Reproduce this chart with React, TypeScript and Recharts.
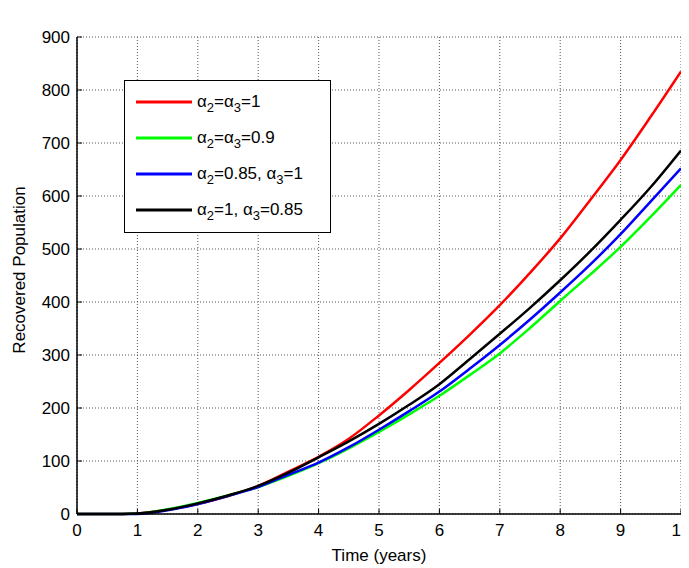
import { LineChart, Line, XAxis, YAxis, CartesianGrid, Legend, Label } from "recharts";

const years = [0, 0.5, 1, 1.5, 2, 2.5, 3, 3.5, 4, 4.5, 5, 5.5, 6, 6.5, 7, 7.5, 8, 8.5, 9, 9.5, 10];
const redVals = [0, 0, 1, 8, 19, 34, 53, 80, 108, 142, 186, 234, 285, 338, 394, 455, 520, 593, 668, 750, 835];
const greenVals = [0, 0, 1, 9, 21, 35, 51, 72, 96, 124, 155, 188, 223, 262, 303, 351, 402, 452, 504, 561, 621];
const blueVals = [0, 0, 0, 7, 19, 34, 51, 74, 97, 126, 159, 194, 231, 274, 319, 367, 418, 471, 528, 590, 652];
const blackVals = [0, 0, 1, 8, 20, 35, 53, 78, 107, 137, 170, 206, 245, 292, 340, 389, 441, 496, 555, 617, 686];

// "_n" marks a one-digit subscript
const seriesLabels = ["α_2=α_3=1", "α_2=α_3=0.9", "α_2=0.85, α_3=1", "α_2=1, α_3=0.85"];
const seriesColors = ["#ff0000", "#00ff00", "#0000ff", "#000000"];

const xTicks = [0, 1, 2, 3, 4, 5, 6, 7, 8, 9, 10];
const yTicks = [0, 100, 200, 300, 400, 500, 600, 700, 800, 900];

const data = years.map((t, i) => ({
  t,
  red: redVals[i],
  green: greenVals[i],
  blue: blueVals[i],
  black: blackVals[i],
}));

const FONT = '"Liberation Sans", Arial, Helvetica, sans-serif';

function BottomTick({ x, y, payload }: any) {
  return (
    <g>
      <line x1={x} x2={x} y1={y} y2={y - 5} stroke="#000" />
      <text x={x} y={y + 22} textAnchor="middle" fontSize={17} fontFamily={FONT} fill="#000">
        {payload.value}
      </text>
    </g>
  );
}

function LeftTick({ x, y, payload }: any) {
  return (
    <g>
      <line x1={x} x2={x + 5} y1={y} y2={y} stroke="#000" />
      <text x={x - 7} y={y + 6} textAnchor="end" fontSize={17} fontFamily={FONT} fill="#000">
        {payload.value}
      </text>
    </g>
  );
}

function TopTick({ x, y }: any) {
  return <line x1={x} x2={x} y1={y} y2={y + 5} stroke="#000" />;
}

function RightTick({ x, y }: any) {
  return <line x1={x} x2={x - 5} y1={y} y2={y} stroke="#000" />;
}

function SubLabel({ text }: { text: string }) {
  const parts = text.split(/_(\d)/);
  return (
    <span>
      {parts.map((p, i) =>
        i % 2 === 1 ? (
          <sub key={i} style={{ fontSize: 13, verticalAlign: -5, lineHeight: 0 }}>
            {p}
          </sub>
        ) : (
          <span key={i}>{p}</span>
        )
      )}
    </span>
  );
}

function LegendBox() {
  return (
    <div
      style={{
        width: 205,
        height: 148,
        border: "1px solid #000",
        background: "#fff",
        paddingTop: 3,
        boxSizing: "content-box",
        fontFamily: FONT,
        fontSize: 17,
        color: "#000",
      }}
    >
      {seriesLabels.map((label, i) => (
        <div key={label} style={{ height: 36, display: "flex", alignItems: "center", paddingLeft: 11 }}>
          <svg width={56} height={4} style={{ marginRight: 5 }}>
            <line x1={0} x2={56} y1={2} y2={2} stroke={seriesColors[i]} strokeWidth={3} />
          </svg>
          <SubLabel text={label} />
        </div>
      ))}
    </div>
  );
}

export default function App() {
  return (
    <LineChart
      width={681}
      height={560}
      data={data}
      margin={{ top: 29, right: 8, bottom: 0, left: 0 }}
      style={{ background: "#fff" }}
    >
      <CartesianGrid stroke="#555" strokeDasharray="1 2" />
      <XAxis
        dataKey="t"
        type="number"
        domain={[0, 10]}
        ticks={xTicks}
        tick={<BottomTick />}
        tickLine={false}
        tickSize={0}
        tickMargin={0}
        height={54}
        axisLine={{ stroke: "#000", strokeWidth: 1.5 }}
        interval={0}
      >
        <Label
          content={({ viewBox }: any) => (
            <text
              x={viewBox.x + viewBox.width / 2}
              y={viewBox.y + 47}
              textAnchor="middle"
              fontSize={17}
              fontFamily={FONT}
              fill="#000"
            >
              Time (years)
            </text>
          )}
        />
      </XAxis>
      <XAxis
        xAxisId="top"
        orientation="top"
        dataKey="t"
        type="number"
        domain={[0, 10]}
        ticks={xTicks}
        tick={<TopTick />}
        tickLine={false}
        tickSize={0}
        tickMargin={0}
        height={0}
        axisLine={{ stroke: "#000", strokeWidth: 1.5 }}
        interval={0}
      >
        <Label
          content={({ viewBox }: any) => (
            <text x={367} y={viewBox.y - 12} textAnchor="middle" fontSize={17} fontFamily={FONT} fill="#000">
              Endemic Equilibrium
            </text>
          )}
        />
      </XAxis>
      <YAxis
        type="number"
        domain={[0, 900]}
        ticks={yTicks}
        tick={<LeftTick />}
        tickLine={false}
        tickSize={0}
        tickMargin={0}
        width={69}
        axisLine={{ stroke: "#000", strokeWidth: 1.5 }}
        interval={0}
      >
        <Label
          content={() => (
            <text
              x={17}
              y={262}
              transform="rotate(-90, 17, 262)"
              textAnchor="middle"
              fontSize={17}
              fontFamily={FONT}
              fill="#000"
            >
              Recovered Population
            </text>
          )}
        />
      </YAxis>
      <YAxis
        yAxisId="right"
        orientation="right"
        type="number"
        domain={[0, 900]}
        ticks={yTicks}
        tick={<RightTick />}
        tickLine={false}
        tickSize={0}
        tickMargin={0}
        width={0}
        axisLine={{ stroke: "#000", strokeWidth: 1.5 }}
        interval={0}
      />
      <Legend
        layout="horizontal"
        align="center"
        verticalAlign="middle"
        content={<LegendBox />}
        wrapperStyle={{ left: 116, top: 72, width: 207, height: 151 }}
      />
      <Line name={seriesLabels[0]} dataKey="red" stroke={seriesColors[0]} strokeWidth={2.5} dot={false} type="monotone" isAnimationActive={false} />
      <Line name={seriesLabels[1]} dataKey="green" stroke={seriesColors[1]} strokeWidth={2.5} dot={false} type="monotone" isAnimationActive={false} />
      <Line name={seriesLabels[2]} dataKey="blue" stroke={seriesColors[2]} strokeWidth={2.5} dot={false} type="monotone" isAnimationActive={false} />
      <Line name={seriesLabels[3]} dataKey="black" stroke={seriesColors[3]} strokeWidth={2.5} dot={false} type="monotone" isAnimationActive={false} />
    </LineChart>
  );
}
